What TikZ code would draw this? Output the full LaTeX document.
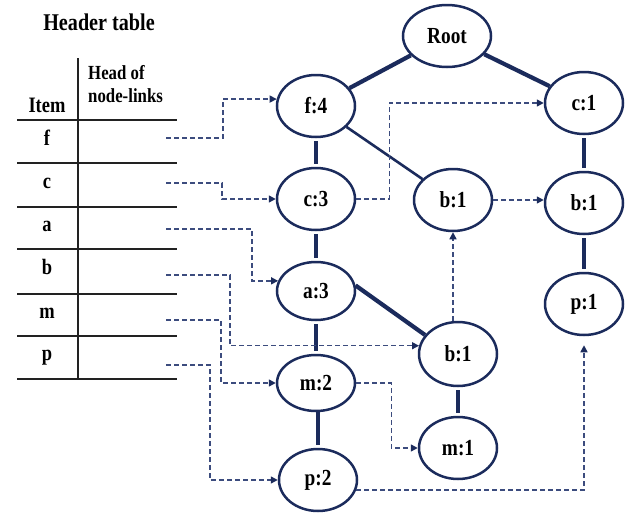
\documentclass[tikz,border=0pt]{standalone}
\usepackage{fontspec}
\newfontfamily\lblfont{Liberation Serif}[FakeStretch=0.84]
\usetikzlibrary{arrows.meta,shapes.geometric}
\definecolor{navy}{HTML}{1B2B5C}
\definecolor{linkc}{HTML}{3C4C7E}
\definecolor{rulec}{HTML}{222222}
\begin{document}
\begin{tikzpicture}[x=1pt,y=-1pt,
  fpnode/.style={ellipse,draw=navy,line width=2.5pt,minimum width=78pt,
    minimum height=62pt,inner sep=0pt,text=black,
    font=\lblfont\bfseries\fontsize{23}{25}\selectfont},
  treeedge/.style={draw=navy,line width=4.2pt},
  thinedge/.style={draw=navy,line width=2.6pt},
  vedge/.style={draw=navy,line width=4.2pt,shorten <=3pt,shorten >=3pt},
  ptr/.style={draw=linkc,line width=1.5pt,dash pattern=on 5pt off 3pt,
    -{Triangle[length=7pt,width=7pt,fill=navy,color=navy]}},
  tabrule/.style={draw=rulec,line width=1.8pt},
  tabtext/.style={inner sep=0pt,text=black,font=\lblfont\bfseries\fontsize{22}{24}\selectfont},
  headtext/.style={inner sep=0pt,text=black,font=\lblfont\bfseries\fontsize{20}{23}\selectfont}
]
\useasboundingbox (0,0) rectangle (630,515);

% ---------- header table ----------
\node[tabtext,font=\lblfont\bfseries\fontsize{24}{26}\selectfont] (title) at (99,22) {Header table};
\node[tabtext,anchor=base] (item) at (47,112) {Item};
\node[headtext,anchor=base west] (head1) at (88,79) {Head of};
\node[headtext,anchor=base west] (head2) at (88,102) {node-links};
\draw[draw=rulec,line width=1.5pt] (78,58) -- (78,379);
\foreach \yy in {120,163,207,249,294,336,379}
  \draw[tabrule] (17,\yy) -- (177,\yy);
\node[tabtext,anchor=base] (rf) at (47,145) {f};
\node[tabtext,anchor=base] (rc) at (47,188) {c};
\node[tabtext,anchor=base] (ra) at (47,231) {a};
\node[tabtext,anchor=base] (rb) at (47,274) {b};
\node[tabtext,anchor=base] (rm) at (47,318) {m};
\node[tabtext,anchor=base] (rp) at (47,360) {p};

\coordinate (hf) at (166,138);
\coordinate (hc) at (166,183);
\coordinate (ha) at (166,229);
\coordinate (hb) at (166,275);
\coordinate (hm) at (166,320);
\coordinate (hp) at (166,365);

% ---------- FP-tree ----------
\node[fpnode,minimum width=88pt] (root) at (447,36) {Root};
\node[fpnode] (f4)  at (316,106) {f:4};
\node[fpnode] (c1)  at (584,103) {c:1};
\node[fpnode] (c3)  at (316,199) {c:3};
\node[fpnode] (b1m) at (453,200) {b:1};
\node[fpnode] (b1r) at (584,203) {b:1};
\node[fpnode,minimum height=58pt] (a3) at (316,291) {a:3};
\node[fpnode] (p1)  at (584,304) {p:1};
\node[fpnode,minimum height=64pt] (b1l) at (458,354) {b:1};
\node[fpnode,minimum height=56pt] (m2)  at (316,383) {m:2};
\node[fpnode] (m1)  at (458,448) {m:1};
\node[fpnode] (p2)  at (318,480) {p:2};

\draw[treeedge] (root) -- (f4);
\draw[treeedge] (root) -- (c1);
\draw[thinedge] (f4) -- (b1m);
\draw[treeedge] (a3.8) -- (b1l.150);
\draw[vedge] (f4) -- (c3);
\draw[vedge] (c3) -- (a3);
\draw[vedge] (a3) -- (m2);
\draw[vedge] (m2.south) -- (m2.south -| p2.north) -- (p2.north);
\draw[vedge] (b1l) -- (m1);
\draw[vedge] (c1) -- (b1r);
\draw[vedge] (b1r) -- (p1);

% ---------- header pointers ----------
\draw[ptr] (hf) -- ++(57,0) |- (f4.170);
\draw[ptr] (hc) -- ++(56,0) |- (c3.west);
\draw[ptr] (ha) -- ++(86,0) |- (a3.165);
\draw[ptr] (hb) -- ++(64,0) |- (b1l.168);
\draw[ptr] (hm) -- ++(55,0) |- (m2.west);
\draw[ptr] (hp) -- ++(44,0) |- (p2.west);

% ---------- node-links ----------
\draw[ptr] (c3.east) -- ++(33,0) |- (c1.west);
\draw[ptr] (b1m.east) -- (b1m.east -| b1r.west);
\draw[ptr] (b1l.north -| b1m.south) -- (b1m.south);
\draw[ptr] (m2.east) -- ++(35,0) |- (m1.west);
\draw[ptr,shorten >=9pt] (p2.-15) -| (p1.south);
\end{tikzpicture}
\end{document}
